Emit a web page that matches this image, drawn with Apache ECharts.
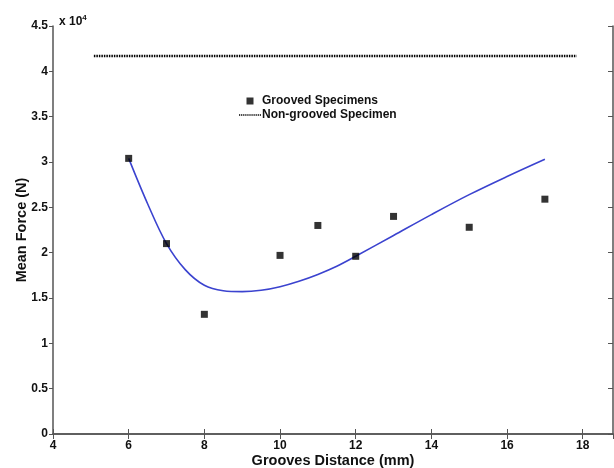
<!DOCTYPE html>
<html><head><meta charset="utf-8">
<script src="https://cdn.jsdelivr.net/npm/echarts@6/dist/echarts.min.js"></script>
<style>html,body{margin:0;padding:0;background:#fff}#c{width:614px;height:468px}</style>
</head><body><div id="c"></div>
<script>
// Measured specimens
var groovedX = [6, 7, 8, 10, 11, 12, 13, 15, 17];
var groovedForce = [30400, 21000, 13200, 19700, 23000, 19600, 24000, 22800, 25900];
// Fitted curve
var fitX = [6, 6.5, 7, 7.5, 8, 8.5, 9, 9.5, 10, 10.5, 11, 11.5, 12, 13, 14, 15, 16, 17];
var fitForce = [30400, 25400, 21000, 18100, 16400, 15800, 15700, 15850, 16250, 16850, 17600, 18500, 19600, 21900, 24200, 26400, 28400, 30300];
// Non-grooved specimen reference level
var nonGroovedX = [5.08, 17.84];
var nonGroovedForce = [41700, 41700];
var seriesNames = ["Grooved Specimens", "Non-grooved Specimen"];
var xTitle = "Grooves Distance (mm)";
var yTitle = "Mean Force (N)";

var axisColor = "#555";
var font = "Liberation Sans, Arial, sans-serif";
function pairs(xs, ys){ return xs.map(function(x,i){return [x, ys[i]];}); }
var dotted = 'path://';
for (var i = 0; i < 11; i++) { dotted += 'M' + (i*2) + ',0h1.2v1.5h-1.2z'; }

var chart = echarts.init(document.getElementById('c'), null, {renderer:'canvas'});
chart.setOption({
  animation:false,
  backgroundColor:'#fff',
  title:{
    text:'x 10{sup|4}', left:54, top:9,
    textStyle:{fontFamily:font, fontWeight:'bold', fontSize:12, color:'#111',
      rich:{sup:{fontSize:8, fontWeight:'bold', verticalAlign:'top', padding:[0,0,8,0], fontFamily:font, color:'#111'}}}
  },
  legend:{
    data:[{name:seriesNames[0], icon:'path://M0,0h1v1h-1z'}, {name:seriesNames[1], icon:dotted}],
    orient:'vertical', left:234, top:89, itemWidth:22, itemHeight:7, itemGap:0,
    textStyle:{fontFamily:font, fontWeight:'bold', fontSize:12, lineHeight:14, color:'#111', padding:[0,0,0,-4]}
  },
  grid:{left:53, top:26, right:1, bottom:34, containLabel:false, outerBoundsMode:'none'},
  xAxis:[{
    type:'value', min:4, max:18.8, interval:2,
    name:xTitle, nameLocation:'middle', nameGap:19, nameMoveOverlap:false,
    nameTextStyle:{fontFamily:font, fontWeight:'bold', fontSize:14.5, color:'#111'},
    axisLine:{lineStyle:{color:axisColor, width:1.5}},
    axisTick:{inside:true, length:5, lineStyle:{color:axisColor}},
    axisLabel:{fontFamily:font, fontWeight:'bold', fontSize:12, color:'#111', margin:6, showMaxLabel:false},
    splitLine:{show:false}
  },{
    type:'value', position:'top', min:4, max:18.8, interval:2,
    axisLine:{lineStyle:{color:axisColor, width:1.5}},
    axisTick:{inside:true, length:5, lineStyle:{color:axisColor}},
    axisLabel:{show:false}, splitLine:{show:false}
  }],
  yAxis:[{
    type:'value', min:0, max:45000, interval:5000,
    name:yTitle, nameLocation:'middle', nameGap:24, nameRotate:90, nameMoveOverlap:false,
    nameTextStyle:{fontFamily:font, fontWeight:'bold', fontSize:14.5, color:'#111'},
    axisLine:{show:true, lineStyle:{color:axisColor, width:1.5}},
    axisTick:{show:true, inside:false, length:4, lineStyle:{color:axisColor}},
    axisLabel:{fontFamily:font, fontWeight:'bold', fontSize:12, color:'#111', margin:5,
      formatter:function(v){return String(v/10000);}},
    splitLine:{show:false}
  },{
    type:'value', position:'right', min:0, max:45000, interval:5000,
    axisLine:{show:true, lineStyle:{color:axisColor, width:1.5}},
    axisTick:{show:true, inside:true, length:5, lineStyle:{color:axisColor}},
    axisLabel:{show:false}, splitLine:{show:false}
  }],
  series:[{
    name:'fit', type:'line', data:pairs(fitX, fitForce), smooth:0.35,
    showSymbol:false, symbol:'none', silent:true,
    lineStyle:{color:'#3b43cf', width:1.6}, z:2
  },{
    name:seriesNames[0], type:'scatter', data:pairs(groovedX, groovedForce),
    symbol:'rect', symbolSize:7, itemStyle:{color:'#000'}, z:3
  },{
    name:seriesNames[1], type:'line', data:pairs(nonGroovedX, nonGroovedForce),
    symbol:'none', showSymbol:false, itemStyle:{color:'#000'},
    lineStyle:{color:'#000', width:2.5, type:[1.5,1]}, z:3
  }]
});
</script></body></html>
